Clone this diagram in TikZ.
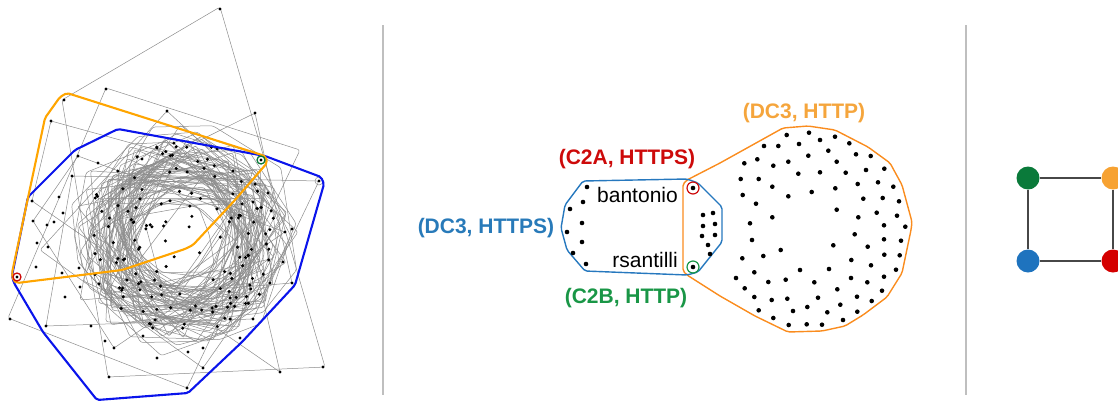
\documentclass[tikz,border=0pt]{standalone}
\usepackage{fontspec}
\setmainfont{Liberation Sans}
\definecolor{hullblue}{RGB}{10,20,235}
\definecolor{hullorange}{RGB}{255,165,0}
\definecolor{mblue}{RGB}{38,120,190}
\definecolor{morange}{RGB}{250,140,30}
\definecolor{lblue}{RGB}{40,122,185}
\definecolor{lred}{RGB}{205,10,10}
\definecolor{lgreen}{RGB}{25,150,70}
\definecolor{lorange}{RGB}{245,165,60}
\definecolor{ngreen}{RGB}{10,122,58}
\definecolor{norange}{RGB}{247,162,50}
\definecolor{nblue}{RGB}{30,115,190}
\definecolor{nred}{RGB}{212,0,0}
\begin{document}
\begin{tikzpicture}[x=1pt,y=-1pt,
  tangle/.style={draw=black!45, line width=0.5pt, rounded corners=2.5pt},
  hull/.style={line width=2.1pt, rounded corners=2pt},
  mhull/.style={line width=1.4pt, rounded corners=2pt},
  sep/.style={draw=black!25, line width=2.6pt},
  lab/.style={font=\fontsize{21}{24}\selectfont\bfseries, inner sep=0pt},
  uname/.style={font=\fontsize{21}{24}\selectfont, inner sep=0pt},
  vtx/.style={circle, minimum size=23pt, inner sep=0pt},
  conn/.style={draw=black!72, line width=1.3pt}]
\useasboundingbox (0,0) rectangle (1118,402);
\clip (0,0) rectangle (1118,402);

% ---------- left panel: tangle ----------
\pgfmathsetseed{4242}
\foreach \i in {1,...,38}{
  \pgfmathsetmacro\R{48+56*rnd}
  \pgfmathsetmacro\A{360*rnd}
  \pgfmathsetmacro\cx{182+34*rnd-17}
  \pgfmathsetmacro\cy{238+34*rnd-17}
  \draw[tangle] ([shift={(\cx,\cy)}]\A:\R)
    \foreach \k in {1,...,7}{ -- ([shift={(\cx,\cy)}]{\A+\k*45+26*rnd-13}:{\R+26*rnd-13}) } -- cycle;
}
\foreach \i in {1,...,24}{
  \pgfmathsetmacro\R{75+35*rnd}
  \pgfmathsetmacro\A{360*rnd}
  \pgfmathsetmacro\cx{182+24*rnd-12}
  \pgfmathsetmacro\cy{238+24*rnd-12}
  \draw[tangle] ([shift={(\cx,\cy)}]\A:\R)
    \foreach \k in {1,...,3}{ -- ([shift={(\cx,\cy)}]{\A+\k*90+24*rnd-12}:{\R+20*rnd-10}) } -- cycle;
}
\foreach \i in {1,...,10}{
  \pgfmathsetmacro\R{70+30*rnd}
  \pgfmathsetmacro\A{360*rnd}
  \pgfmathsetmacro\cx{182+16*rnd-8}
  \pgfmathsetmacro\cy{238+16*rnd-8}
  \draw[tangle] ([shift={(\cx,\cy)}]\A:\R)
    \foreach \k in {1,2}{ -- ([shift={(\cx,\cy)}]{\A+\k*120+20*rnd-10}:{\R+16*rnd-8}) } -- cycle;
}
% outer gray polygons
\draw[tangle] (220,7) -- (325,367) -- (108,377) -- (62,100) -- cycle;
\draw[tangle] (106,88) -- (300,150) -- (187,388) -- (8,318) -- cycle;
\draw[tangle] (255,113) -- (292,283) -- (80,300) -- (100,190) -- cycle;
\draw[tangle] (167,111) -- (298,232) -- (203,368) -- (40,250) -- cycle;
\draw[tangle] (319,181) -- (253,319) -- (46,326) -- (72,176) -- cycle;
\draw[tangle] (51,121) -- (233,171) -- (280,372) -- (32,201) -- cycle;
\draw[tangle] (78,156) -- (285,232) -- (114,348) -- (33,221) -- cycle;

% dots in ring
\foreach \i in {1,...,150}{
  \pgfmathsetmacro\t{360*rnd}
  \pgfmathsetmacro\s{12+84*sqrt(rnd)}
  \fill ([shift={(182,238)}]\t:\s) circle (1.7pt);
}
% outer dots
\foreach \p in {(220,9),(106,89),(64,100),(51,121),(167,111),(255,113),(157,148),
  (78,156),(98,163),(142,159),(72,176),(32,201),(59,197),(63,213),(33,221),(47,225),
  (54,222),(37,243),(48,247),(36,267),(62,273),(79,268),(17,277),(65,297),(80,287),
  (10,319),(46,326),(91,326),(105,341),(114,348),(143,336),(157,358),(188,352),
  (203,348),(203,368),(109,377),(187,388),(240,338),(253,319),(280,372),(323,367),
  (270,283),(292,283),(285,232),(292,229),(283,262),(268,193),(253,202),(233,171),
  (261,160),(319,181)}{
  \fill \p circle (1.7pt);
}
\draw[black!45, line width=0.5pt] (319,181) circle (4pt);

% hulls
\draw[hull, draw=hullblue] (118,129) -- (75,150) -- (28,197) -- (12,276) -- (14,283)
  -- (43,332) -- (97,400) -- (188,393) -- (242,342) -- (295,285) -- (324,184)
  -- (321,177) -- (265,156) -- cycle;
\draw[hull, draw=hullorange] (67,93) -- (60,97) -- (45,118) -- (12,273) -- (13,280)
  -- (17,283) -- (122,270) -- (185,249) -- (193,245) -- (235,200) -- (267,163)
  -- (266,157) -- (262,155) -- cycle;
\draw[lred, line width=1.3pt] (17,277) circle (4pt);
\draw[ngreen, line width=1.3pt] (261,160) circle (4pt);

% separators
\draw[sep] (383,25) -- (383,395);
\draw[sep] (966,25) -- (966,395);

% ---------- middle panel ----------
\draw[mhull, draw=morange] (683,184) -- (687,180) -- (720,163) -- (783,128) -- (808,126)
  -- (835,130) -- (868,147) -- (890,163) -- (902,185) -- (912,222) -- (911,230)
  -- (902,273) -- (887,297) -- (863,315) -- (845,326) -- (822,331) -- (788,332)
  -- (755,316) -- (720,296) -- (687,275) -- (683,271) -- cycle;
\draw[mhull, draw=mblue] (583,181) -- (687,179) -- (698,183) -- (722,207) -- (722,242)
  -- (698,272) -- (687,275) -- (585,271) -- (567,250) -- (561,228) -- (565,205) -- cycle;

\foreach \p in {(587,187),(583,202),(570,209),(582,223),(567,232),(582,242),(573,253),(586,264),
  (693,188),(703,215),(713,213),(703,226),(715,224),(702,236),(715,235),(708,245),(710,254),(693,267),
  (786.7,135),(809,132.7),(835,136.7),(764,146),(778.3,146),(799,144),(820,140),(849.3,143.3),
  (828.3,150.7),(856,154.3),(870.7,156),(808.3,155.7),(757.3,159.3),(744.3,163.3),(773.3,165.7),
  (788.3,161.7),(836.7,161.7),(866,170),(884.3,168.7),(845.7,172.7),(820,172.3),(798.3,173.7),
  (740.7,179),(758.7,179),(772.3,186.7),(857.7,184),(878,182.3),(893.3,186.7),(835.3,188.3),
  (811.7,192),(742.7,195),(788.3,196.3),(863.3,198.7),(882.7,198),(899,201.3),
  (756,203.7),(836.7,209.7),(876.7,212.7),(897,215.7),(858.3,217.3),
  (772.3,217.3),(750,223.3),(884,225.3),(905.3,226.7),
  (854.7,234.3),(752,240),(833.3,245.3),(867.7,246.7),(884,239.3),(901,240.7),
  (780.7,250),(763.3,256),(742.3,258.3),(851.3,260),(884.3,254.7),(899.7,255.3),
  (871,265.3),(800,270),(829,269),(754.3,272.3),(896,269.7),
  (736,278),(768.3,282),(785.7,279.7),(814.3,282.3),(851,278),(867.3,282.3),(884,276.7),
  (744.7,288.3),(837.3,289.3),(882,290.7),
  (754.3,297),(771.7,300),(787.3,298.7),(818,297.7),(857,296.7),(871.7,301),
  (758.7,310.3),(793,311),(807.3,307),(840.3,304.7),(827.3,312.3),(857.3,311.7),
  (773.3,318),(843,320),(788.7,325),(806.7,324.3),(822,324.7)}{
  \fill \p circle (2.3pt);
}
\draw[lred, line width=1.2pt] (693,188) circle (6pt);
\draw[lgreen, line width=1.2pt] (693,267) circle (6pt);

\node[lab, text=lorange] (dchttp) at (804,113) {(DC3, HTTP)};
\node[lab, text=lred] (c2a) at (627,159) {(C2A, HTTPS)};
\node[lab, text=lgreen] (c2b) at (626,298) {(C2B, HTTP)};
\node[lab, text=lblue] (dchttps) at (486,228) {(DC3, HTTPS)};
\node[uname, anchor=base west] (bant) at (597,202.5) {bantonio};
\node[uname, anchor=base east] (rsan) at (678,267.5) {rsantilli};

% ---------- right panel ----------
\node[vtx, fill=ngreen] (g) at (1028,178) {};
\node[vtx, fill=norange] (o) at (1113,178) {};
\node[vtx, fill=nblue] (b) at (1028,261) {};
\node[vtx, fill=nred] (r) at (1113,261) {};
\draw[conn] (g) -- (o);
\draw[conn] (g) -- (b);
\draw[conn] (b) -- (r);
\draw[conn] (o) -- (r);
\end{tikzpicture}
\end{document}
